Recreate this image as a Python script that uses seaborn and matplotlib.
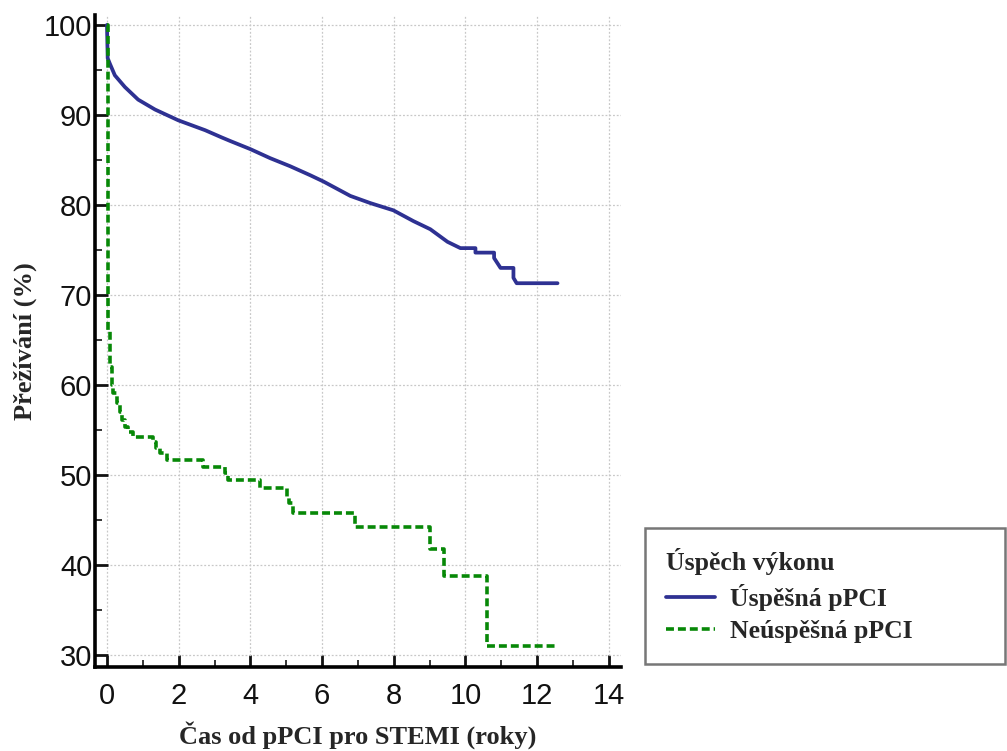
import numpy as np
import pandas as pd
import matplotlib
matplotlib.use("Agg")
import matplotlib.pyplot as plt
import seaborn as sns
from matplotlib.ticker import MultipleLocator

# Kaplan-Meier survival estimates (years, % surviving)
succ_time = [0.0, 0.0, 0.02, 0.08, 0.22, 0.5, 0.87, 1.34, 1.99, 2.74, 3.2, 3.44,
             4.0, 4.55, 5.11, 5.67, 6.04, 6.79, 7.35, 7.99, 8.55, 9.02, 9.5, 9.86,
             10.28, 10.28, 10.8, 10.8, 10.98, 11.34, 11.34, 11.43, 12.57]
succ_surv = [100.0, 100.0, 96.3, 95.7, 94.4, 93.1, 91.7, 90.6, 89.4, 88.3, 87.5,
             87.1, 86.2, 85.2, 84.3, 83.3, 82.6, 81.0, 80.2, 79.4, 78.2, 77.3,
             75.9, 75.2, 75.2, 74.7, 74.7, 74.1, 73.0, 73.0, 71.9, 71.3, 71.3]

fail_time = [0.0, 0.03, 0.08, 0.13, 0.17, 0.28, 0.36, 0.42, 0.5, 0.6, 0.73,
             1.29, 1.38, 1.48, 1.68, 1.9, 2.68, 3.3, 3.38, 3.44, 4.27, 5.03, 5.08,
             5.2, 6.93, 9.02, 9.39, 10.59, 12.57]
fail_surv = [100.0, 66.0, 62.0, 60.0, 59.1, 58.0, 57.0, 56.1, 55.3, 54.8,
             54.2, 53.7, 53.0, 52.4, 51.7, 51.7, 50.9, 50.2, 49.4, 49.4, 48.6,
             47.6, 46.9, 45.8, 44.2, 41.8, 38.8, 31.0, 31.0]

group_labels = ["Úspěšná pPCI", "Neúspěšná pPCI"]
legend_title = "Úspěch výkonu"
x_label = "Čas od pPCI pro STEMI (roky)"
y_label = "Přežívání (%)"

sns.set_style("white")
plt.rcParams["font.family"] = ["Liberation Sans", "DejaVu Sans"]

fig = plt.figure(figsize=(10.07, 7.51), dpi=100)
ax = fig.add_axes([0.0943, 0.112, 0.522, 0.868])

succ_df = pd.DataFrame({"t": succ_time, "s": succ_surv})
fail_df = pd.DataFrame({"t": fail_time, "s": fail_surv})

sns.lineplot(data=succ_df, x="t", y="s", ax=ax, color="#2e3192", lw=2.7,
             estimator=None, sort=False, label=group_labels[0])
sns.lineplot(data=fail_df, x="t", y="s", ax=ax, color="#078807", lw=2.6,
             estimator=None, sort=False, drawstyle="steps-post",
             label=group_labels[1])
ax.lines[1].set_linestyle((0, (2.2, 1.1)))

ax.set_xlim(-0.335, 14.33)
ax.set_ylim(28.67, 101.1)
ax.xaxis.set_major_locator(MultipleLocator(2))
ax.xaxis.set_minor_locator(MultipleLocator(1))
ax.yaxis.set_minor_locator(MultipleLocator(5))
ax.set_yticks(range(30, 101, 10))

ax.grid(True, which="major", color="#c8c8c8", ls=(0, (1.5, 1.5)), lw=0.9)
ax.tick_params(which="major", direction="in", length=9, width=2,
               labelsize=21, colors="#111111")
ax.tick_params(axis="x", which="major", pad=11)
ax.tick_params(axis="y", which="major", pad=2)
ax.tick_params(which="minor", direction="in", length=5, width=1.3)
ax.tick_params(axis="both", which="both", bottom=True, left=True)

for side in ["top", "right"]:
    ax.spines[side].set_visible(False)
for side in ["left", "bottom"]:
    ax.spines[side].set_color("black")
    ax.spines[side].set_linewidth(2.6)

serif_bold = dict(family=["Liberation Serif", "DejaVu Serif"], weight="bold", size=19)
ax.set_xlabel(x_label, labelpad=8, **serif_bold)
ax.set_ylabel(y_label, labelpad=5, **serif_bold)

handles, labels = ax.get_legend_handles_labels()
ax.get_legend().remove()
leg = fig.legend(handles, labels, title=legend_title,
                 loc="lower left", bbox_to_anchor=(0.641, 0.116, 0.357, 0.18),
                 mode="expand", frameon=True, fancybox=False,
                 prop=dict(family=["Liberation Serif", "DejaVu Serif"], weight="bold", size=18.5),
                 title_fontproperties=dict(family=["Liberation Serif", "DejaVu Serif"],
                                           weight="bold", size=18.5),
                 handlelength=1.9, handletextpad=0.6, labelspacing=0.35,
                 borderpad=0.8, borderaxespad=0)
leg._legend_box.align = "left"
frame = leg.get_frame()
frame.set_edgecolor("#555555")
frame.set_linewidth(1.8)

fig.savefig("out.png", dpi=100)
